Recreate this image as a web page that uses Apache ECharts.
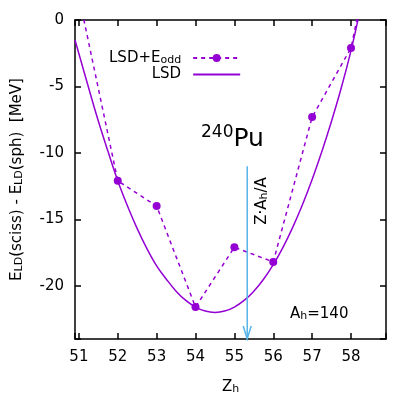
<!DOCTYPE html>
<html>
<head>
<meta charset="utf-8">
<script src="https://cdn.jsdelivr.net/npm/echarts@6/dist/echarts.min.js"></script>
<style>
  html, body { margin: 0; padding: 0; background: #fff; }
  #chart { width: 415px; height: 415px; }
</style>
</head>
<body>
<div id="chart"></div>
<script>
// LSD + E_odd, one point per proton number (51 and 59 lie above the frame)
var zOdd = [51, 52, 53, 54, 55, 56, 57, 58, 59];
var eOdd = [1.8, -12.1, -14.0, -21.6, -17.1, -18.2, -7.3, -2.1, 12.0];

// LSD curve
var zLsd = [50.9, 51.25, 51.5, 51.75, 52, 52.25, 52.5, 52.75, 53, 53.25, 53.5, 53.75, 54,
            54.25, 54.5, 54.75, 55, 55.25, 55.5, 55.75, 56, 56.25, 56.5, 56.75, 57,
            57.25, 57.5, 57.75, 58, 58.2];
var eLsd = [-1.5, -5.1, -7.6, -9.9, -12.1, -14.0, -15.7, -17.2, -18.5, -19.5, -20.4, -21.1, -21.6,
            -21.9, -22.0, -21.9, -21.6, -21.1, -20.4, -19.5, -18.4, -17.1, -15.6, -13.9, -12.0,
            -9.9, -7.6, -5.1, -2.3, 0.3];

// Z*Ah/A arrow
var arrowZ = 55.33;
var arrowFrom = -11.0;
var arrowTo = -24.0;

var xTicks = [51, 52, 53, 54, 55, 56, 57, 58];
var yTicks = [-20, -15, -10, -5, 0];

var purple = '#9400d3';
var blue = '#56b4e9';
var font = 'DejaVu Sans';

function pairs(xs, ys) {
    var out = [];
    for (var i = 0; i < xs.length; i++) out.push([xs[i], ys[i]]);
    return out;
}

var richBase = {
    a: { fontFamily: font, fontSize: 15, color: '#000', lineHeight: 16 },
    s: { fontFamily: font, fontSize: 11, color: '#000', lineHeight: 11, padding: [6, 0, 0, 0], verticalAlign: 'bottom' }
};

// no interval set: the nice step (1 and 5) lands the ticks on the integers
function frameX(pos, labels) {
    return {
        type: 'value', position: pos, min: 50.9, max: 58.9, splitNumber: 8,
        axisLine: { show: true, onZero: false, lineStyle: { color: '#000', width: 1.5 } },
        axisTick: { show: true, inside: true, length: 6, lineStyle: { color: '#000', width: 1.5 } },
        axisLabel: { show: labels, customValues: xTicks.slice(), fontFamily: font, fontSize: 15, color: '#000', margin: 11 },
        splitLine: { show: false }
    };
}
function frameY(pos, labels) {
    return {
        type: 'value', position: pos, min: -24, max: 0, splitNumber: 5,
        axisLine: { show: true, onZero: false, lineStyle: { color: '#000', width: 1.5 } },
        axisTick: { show: true, inside: true, length: 6, lineStyle: { color: '#000', width: 1.5 } },
        axisLabel: { show: labels, customValues: yTicks.slice(), fontFamily: font, fontSize: 15, color: '#000', margin: 11 },
        splitLine: { show: false }
    };
}

var xBottom = frameX('bottom', true);
xBottom.name = '{a|Z}{s|h}';
xBottom.nameLocation = 'middle';
xBottom.nameGap = 40;
xBottom.nameTextStyle = { rich: richBase };

var yLeft = frameY('left', true);
yLeft.name = '{a|E}{s|LD}{a|(sciss) - E}{s|LD}{a|(sph)  [MeV]}';
yLeft.nameLocation = 'middle';
yLeft.nameGap = 50;
yLeft.nameTextStyle = { rich: richBase };

function renderArrow(params, api) {
    var st = { stroke: blue, lineWidth: 1.5, fill: null };
    var p1 = api.coord([api.value(0), api.value(1)]);
    var p2 = api.coord([api.value(0), api.value(2)]);
    return {
        type: 'group',
        children: [
            { type: 'line', shape: { x1: p1[0], y1: p1[1], x2: p2[0], y2: p2[1] }, style: st },
            { type: 'polyline', shape: { points: [[p2[0] - 4, p2[1] - 13], [p2[0], p2[1]], [p2[0] + 4, p2[1] - 13]] }, style: st }
        ]
    };
}

var option = {
    animation: false,
    backgroundColor: '#fff',
    grid: { left: 73, right: 29, top: 20, bottom: 76 },
    xAxis: [xBottom, frameX('top', false)],
    yAxis: [yLeft, frameY('right', false)],
    legend: {
        data: ['LSD+E_odd', { name: 'LSD', itemStyle: { opacity: 0 } }],
        orient: 'vertical',
        align: 'right',
        left: 109,
        top: 49,
        padding: 0,
        itemWidth: 47,
        itemHeight: 10,
        itemGap: 1,
        formatter: function (name) {
            return name === 'LSD' ? '{a|LSD}' : '{a|LSD+E}{s|odd}';
        },
        textStyle: { rich: richBase, padding: [0, 7, 0, 0] }
    },
    graphic: [
        {
            type: 'text', left: 201, top: 124,
            style: {
                text: '{sup|240}{b|Pu}',
                rich: {
                    sup: { fontFamily: font, fontSize: 17, color: '#000', verticalAlign: 'top', lineHeight: 18 },
                    b: { fontFamily: font, fontSize: 25, color: '#000', lineHeight: 31 }
                }
            }
        },
        {
            type: 'text', x: 262, y: 201, rotation: Math.PI / 2,
            style: {
                text: '{a|Z·A}{s|h}{a|/A}', align: 'center', verticalAlign: 'middle',
                rich: richBase
            }
        },
        {
            type: 'text', left: 290, top: 305,
            style: { text: '{a|A}{s|h}{a|=140}', rich: richBase }
        }
    ],
    series: [
        {
            name: 'LSD+E_odd', type: 'line',
            data: pairs(zOdd, eOdd),
            symbol: 'circle', symbolSize: 8,
            itemStyle: { color: purple },
            lineStyle: { color: purple, width: 1.5, type: [4, 4] },
            clip: true, z: 3
        },
        {
            name: 'LSD', type: 'line',
            data: pairs(zLsd, eLsd),
            smooth: 0.4, symbol: 'none',
            itemStyle: { color: purple },
            lineStyle: { color: purple, width: 1.5 },
            clip: true, z: 2
        },
        {
            name: 'arrow', type: 'custom',
            data: [[arrowZ, arrowFrom, arrowTo]],
            renderItem: renderArrow,
            z: 4
        }
    ]
};

var myChart = echarts.init(document.getElementById('chart'));
myChart.setOption(option);
</script>
</body>
</html>
